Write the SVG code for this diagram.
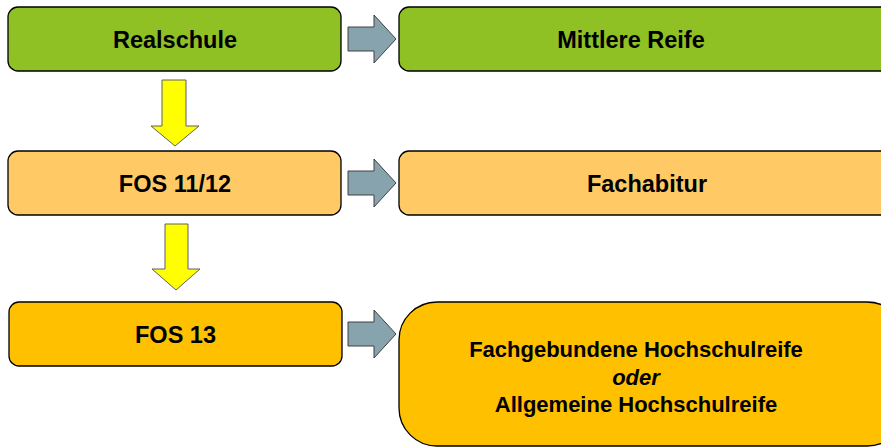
<svg xmlns="http://www.w3.org/2000/svg" width="881" height="447" viewBox="0 0 881 447">
<style>
.box{stroke:#000;stroke-width:1.3}
.green{fill:#8FC125}
.lo{fill:#FFCA66}
.or{fill:#FFC000}
.t{font-family:"Liberation Sans",Arial,sans-serif;font-weight:bold;font-size:23.5px;fill:#000;text-anchor:middle}
.t2{font-family:"Liberation Sans",Arial,sans-serif;font-weight:bold;font-size:22px;fill:#000;text-anchor:middle}
.gray{fill:#87A3AE;stroke:#404040;stroke-width:1}
.yel{fill:#FFFF00;stroke:#606060;stroke-width:1}
</style>
<rect width="881" height="447" fill="#fff"/>
<g id="realschule"><rect class="box green" x="8" y="7" width="333" height="64" rx="10"/><text class="t" x="175" y="48">Realschule</text></g>
<g id="mittlere-reife"><rect class="box green" x="399" y="7" width="500" height="64" rx="10"/><text class="t" x="631" y="48">Mittlere Reife</text></g>
<g id="fos1112"><rect class="box lo" x="8" y="151" width="333" height="64" rx="10"/><text class="t" x="175" y="192">FOS 11/12</text></g>
<g id="fachabitur"><rect class="box lo" x="399" y="151" width="500" height="64" rx="10"/><text class="t" x="647" y="192">Fachabitur</text></g>
<g id="fos13"><rect class="box or" x="9" y="302" width="333" height="64" rx="10"/><text class="t" x="175.5" y="343">FOS 13</text></g>
<g id="hochschulreife"><rect class="box or" x="399" y="302" width="506" height="144" rx="38"/>
<text class="t2" x="636" y="357">Fachgebundene Hochschulreife</text>
<text class="t2" x="636" y="384.5" font-style="italic">oder</text>
<text class="t2" x="636" y="412">Allgemeine Hochschulreife</text></g>
<g id="connectors">
<polygon class="gray" points="348,27 374,27 374,15 396,39 374,63 374,51 348,51"/>
<polygon class="gray" points="348,171 374,171 374,159 396,183 374,207 374,195 348,195"/>
<polygon class="gray" points="348,322 374,322 374,310 396,334 374,358 374,346 348,346"/>
<polygon class="yel" points="162,80 186,80 186,126 199,126 175,146 151,126 162,126"/>
<polygon class="yel" points="165,224 188,224 188,269 200,269 176,290 152,269 165,269"/>
</g>
</svg>
